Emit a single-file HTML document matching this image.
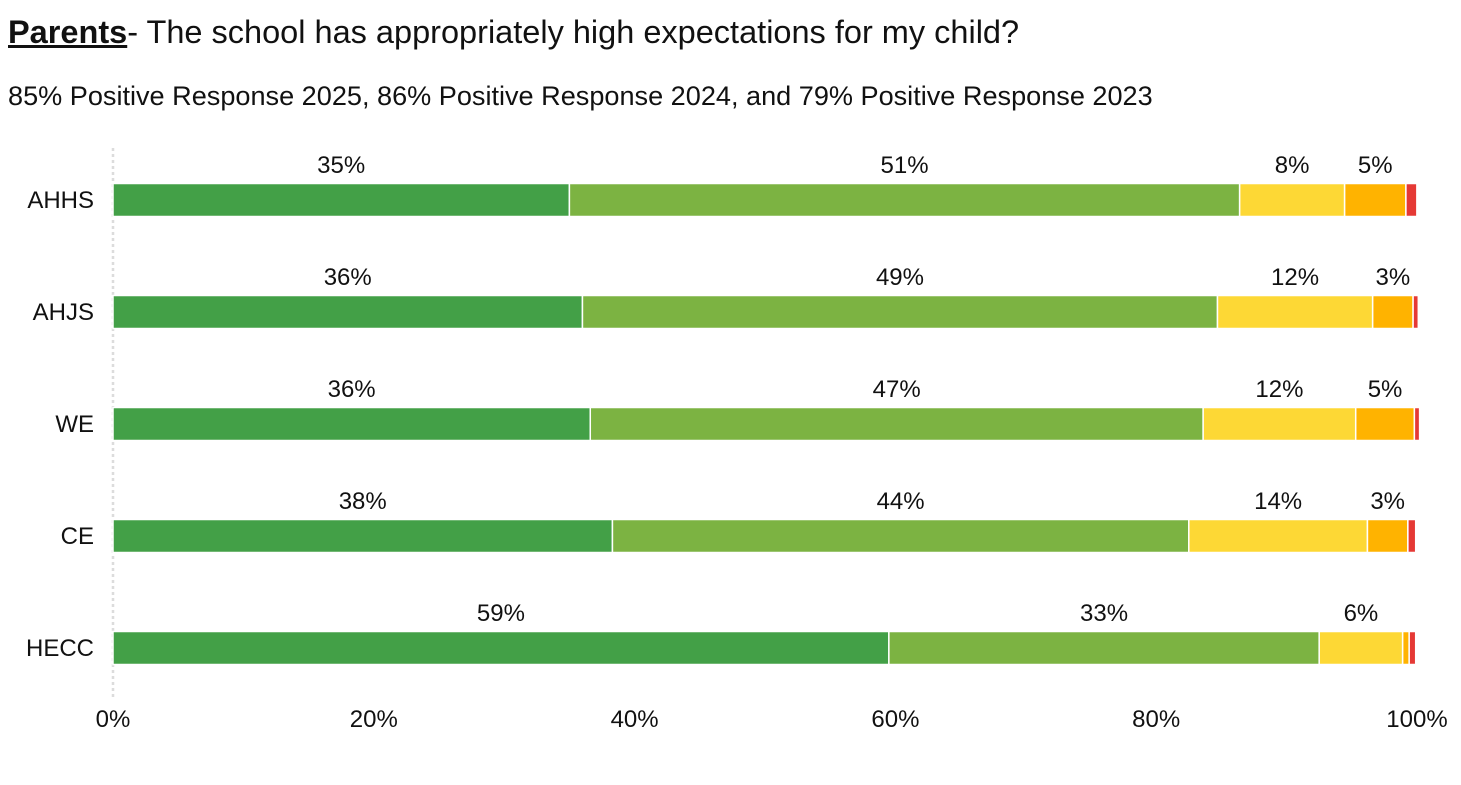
<!DOCTYPE html>
<html><head><meta charset="utf-8"><style>
html,body{margin:0;padding:0;background:#fff;width:1461px;height:785px;overflow:hidden}
body{font-family:"Liberation Sans",Arial,sans-serif;color:#111}
#title{position:absolute;left:8px;top:13px;font-size:32.5px;line-height:38px;white-space:nowrap}
#title b{text-decoration:underline}
#sub{position:absolute;left:8px;top:80px;font-size:27.1px;line-height:32px;white-space:nowrap}
svg{position:absolute;left:0;top:0}
</style></head><body>
<div id="title"><b>Parents</b>- The school has appropriately high expectations for my child?</div>
<div id="sub">85% Positive Response 2025, 86% Positive Response 2024, and 79% Positive Response 2023</div>
<svg id="chart" width="1461" height="785"></svg>
<script>
const categories = ["AHHS","AHJS","WE","CE","HECC"];
const stronglyAgree = [35.0,36.0,36.6,38.3,59.5];
const agree = [51.4,48.7,47.0,44.2,33.0];
const neutral = [8.05,11.9,11.7,13.7,6.4];
const disagree = [4.7,3.1,4.5,3.1,0.5];
const stronglyDisagree = [0.84,0.4,0.4,0.6,0.5];
const printedLabels = [["35%","51%","8%","5%",""],["36%","49%","12%","3%",""],["36%","47%","12%","5%",""],["38%","44%","14%","3%",""],["59%","33%","6%","",""]];
const xTicks = [0,20,40,60,80,100];
const seriesNames = ["strongly-agree","agree","neutral","disagree","strongly-disagree"];
const colors = ["#43a047","#7cb342","#fdd835","#ffb300","#e53935"];
const series = [stronglyAgree,agree,neutral,disagree,stronglyDisagree];
const svg = document.getElementById('chart');
const NS = "http://www.w3.org/2000/svg";
const x0 = 113, pxPer = 13.04;
const xs = v => x0 + v * pxPer;
const yc = i => 200 + i * 112;
const barH = 33;
function mk(tag, attrs){const e=document.createElementNS(NS,tag);for(const k in attrs)e.setAttribute(k,attrs[k]);svg.appendChild(e);return e;}
const grid = mk('line',{x1:x0,x2:x0,y1:148,y2:700,stroke:'#dcdcdc','stroke-width':2.5,'stroke-dasharray':'3,3'});


xTicks.forEach(t=>{
  const tx = mk('text',{x:xs(t),y:727,'font-size':24,'text-anchor':'middle',fill:'#111'});
  tx.textContent = t + '%';
  
  
});
categories.forEach((c,i)=>{
  const lab = mk('text',{x:94,y:yc(i)+8,'font-size':24,'text-anchor':'end',fill:'#111'});
  lab.textContent = c;
  
  
  let cum = 0;
  series.forEach((s,j)=>{
    const v = s[i];
    const r = mk('rect',{x:xs(cum),y:yc(i)-barH/2,width:Math.max(0,v*pxPer),height:barH,fill:colors[j],stroke:'#fff','stroke-width':1.5});
    
    
    const txt = printedLabels[i][j];
    if(txt){
      const t = mk('text',{x:xs(cum+v/2),y:yc(i)-27,'font-size':24,'text-anchor':'middle',fill:'#111'});
      t.textContent = txt;
      
      
    }
    cum += v;
  });
});
</script>
</body></html>
